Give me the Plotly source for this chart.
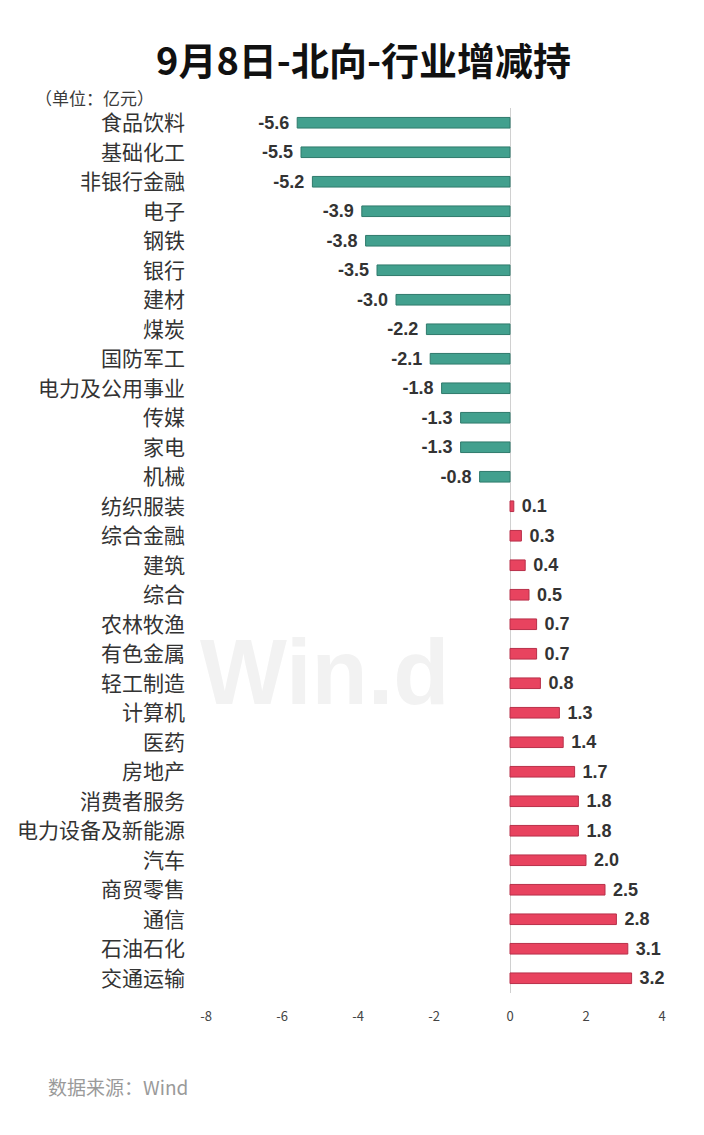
import plotly.graph_objects as go

categories = ["食品饮料", "基础化工", "非银行金融", "电子", "钢铁", "银行", "建材", "煤炭",
              "国防军工", "电力及公用事业", "传媒", "家电", "机械", "纺织服装", "综合金融",
              "建筑", "综合", "农林牧渔", "有色金属", "轻工制造", "计算机", "医药", "房地产",
              "消费者服务", "电力设备及新能源", "汽车", "商贸零售", "通信", "石油石化", "交通运输"]
values = [-5.6, -5.5, -5.2, -3.9, -3.8, -3.5, -3.0, -2.2, -2.1, -1.8, -1.3, -1.3, -0.8,
          0.1, 0.3, 0.4, 0.5, 0.7, 0.7, 0.8, 1.3, 1.4, 1.7, 1.8, 1.8, 2.0, 2.5, 2.8, 3.1, 3.2]
tick_vals = [-8, -6, -4, -2, 0, 2, 4]
tick_text = ["-8", "-6", "-4", "-2", "0", "2", "4"]

NEG = "#42a08e"
NEG_LINE = "#2f7a6c"
POS = "#e8435f"
POS_LINE = "#b8304a"

colors = [NEG if v < 0 else POS for v in values]
line_colors = [NEG_LINE if v < 0 else POS_LINE for v in values]
NB = "\u00a0"
labels = [(f"{v:.1f}" + NB) if v < 0 else (NB + f"{v:.1f}") for v in values]

fig = go.Figure(go.Bar(
    y=categories, x=values, orientation="h",
    marker=dict(color=colors, line=dict(color=line_colors, width=1)),
    width=0.36,
    text=labels, textposition="outside", cliponaxis=False, constraintext="none",
    textfont=dict(family="Liberation Sans, Arial", size=18, color="#333333", weight="bold"),
    hoverinfo="skip",
))

CJK = "Noto Sans CJK SC"
fig.update_layout(
    width=704, height=1135,
    margin=dict(l=206, r=42, t=108, b=142),
    paper_bgcolor="white", plot_bgcolor="white",
    showlegend=False,
    font=dict(family=CJK, color="#333333"),
    xaxis=dict(range=[-8, 4], tickvals=tick_vals, ticktext=tick_text, showgrid=False,
               zeroline=True, zerolinecolor="#d0d0d0", zerolinewidth=1,
               showline=False, ticks="", ticklabelstandoff=14,
               tickfont=dict(family=CJK, size=13, color="#444444")),
    yaxis=dict(autorange="reversed", showgrid=False, zeroline=False, showline=False,
               ticks="", ticklabelstandoff=20,
               tickfont=dict(family=CJK, size=21, color="#333333")),
    annotations=[
        dict(text="9月8日-北向-行业增减持", xref="paper", yref="paper",
             x=363, y=59, showarrow=False, xanchor="center", yanchor="middle",
             font=dict(family=CJK, size=38, color="#111111", weight="bold")),
        dict(text="（单位：亿元）", xref="paper", yref="paper",
             x=33, y=97, showarrow=False, xanchor="left", yanchor="middle",
             font=dict(family=CJK, size=17, color="#3a3a3a")),
        dict(text="Win.d", xref="paper", yref="paper",
             x=325, y=672, showarrow=False, xanchor="center", yanchor="middle",
             font=dict(family="Liberation Sans, Arial", size=92, color="#f2f2f2", weight="bold")),
        dict(text="数据来源：Wind", xref="paper", yref="paper",
             x=46, y=1086, showarrow=False, xanchor="left", yanchor="middle",
             font=dict(family=CJK, size=19, color="#9a9a9a")),
    ],
)

# convert pixel positions for annotations to paper coords
pw = 704 - 206 - 42
ph = 1135 - 108 - 142
for a in fig.layout.annotations:
    px, py = a.x, a.y
    a.x = (px - 206) / pw
    a.y = 1 - (py - 108) / ph

fig.write_html("out.html", config={"displayModeBar": False})

# remove default body margin so the figure sits at the window origin
with open("out.html", "r", encoding="utf-8") as f:
    html = f.read()
html = html.replace("<head>", "<head><style>html,body{margin:0;padding:0;overflow:hidden;}</style>", 1)
with open("out.html", "w", encoding="utf-8") as f:
    f.write(html)
